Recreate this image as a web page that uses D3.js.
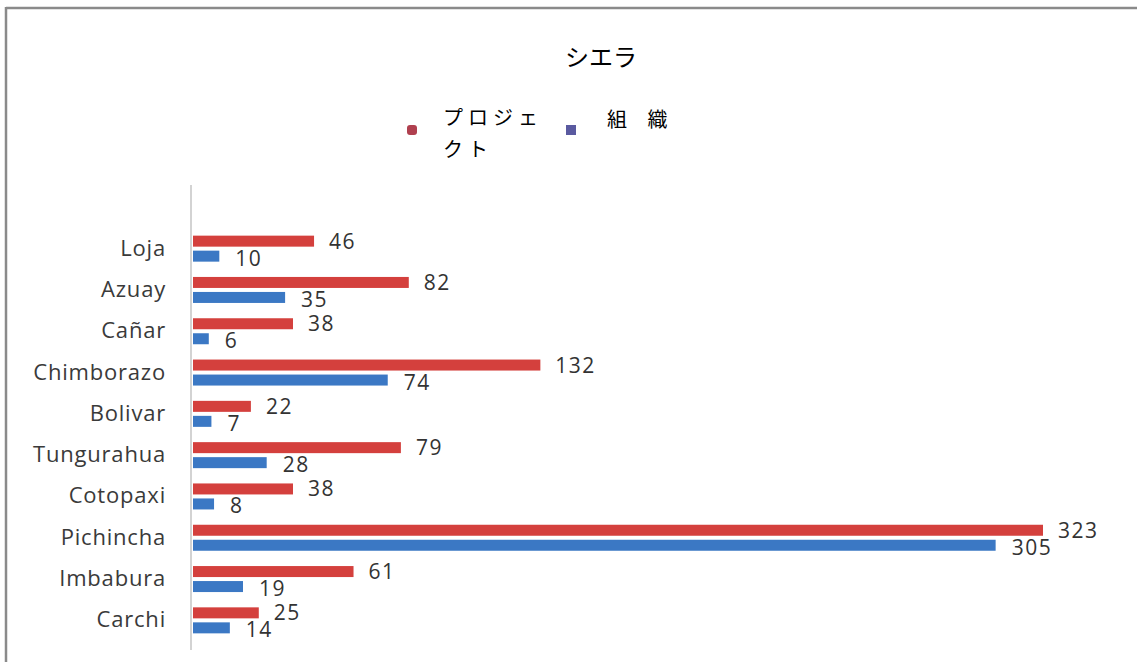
<!DOCTYPE html>
<html>
<head>
<meta charset="utf-8">
<script src="https://cdn.jsdelivr.net/npm/d3@7"></script>
<style>
  html, body { margin: 0; padding: 0; background: #fff; }
  #app { width: 1137px; height: 662px; }
</style>
</head>
<body>
<div id="app"></div>
<script>
/////////DATA///////////

const provinces = ['Loja', 'Azuay', 'Cañar', 'Chimborazo', 'Bolivar', 'Tungurahua', 'Cotopaxi', 'Pichincha', 'Imbabura', 'Carchi'];
const projects = [46, 82, 38, 132, 22, 79, 38, 323, 61, 25];
const organizations = [10, 35, 6, 74, 7, 28, 8, 305, 19, 14];
const seriesNames = ['プロジェクト', '組 織'];

const w = 1137;
const h = 662;
const red = '#d4403d';
const blue = '#3b78c4';

const svg = d3.select('#app')
  .append('svg')
  .attr('width', w)
  .attr('height', h);

/////////FRAME///////////

svg.append('line')
  .attr('x1', 6).attr('x2', w).attr('y1', 8).attr('y2', 8)
  .attr('stroke', '#8a8a8a').attr('stroke-width', 2.5);
svg.append('line')
  .attr('x1', 6).attr('x2', 6).attr('y1', 7).attr('y2', h)
  .attr('stroke', '#8a8a8a').attr('stroke-width', 2.5);

/////////TITLE///////////

svg.append('text')
  .attr('x', 601)
  .attr('y', 66)
  .attr('text-anchor', 'middle')
  .style('font-family', '"Noto Sans CJK JP", sans-serif')
  .style('font-size', '24px')
  .text('シエラ');

/////////LEGEND//////////

const legend = svg.append('g')
  .style('font-family', '"Noto Sans CJK JP", sans-serif')
  .style('font-size', '20px');

legend.append('rect')
  .attr('x', 407).attr('y', 125).attr('width', 10).attr('height', 10)
  .attr('rx', 3).attr('fill', '#b0404f');
legend.append('text')
  .attr('x', 443).attr('y', 125)
  .style('letter-spacing', '5px')
  .text(seriesNames[0].slice(0, 4));
legend.append('text')
  .attr('x', 443).attr('y', 157)
  .style('letter-spacing', '5px')
  .text(seriesNames[0].slice(4));

legend.append('rect')
  .attr('x', 566).attr('y', 125).attr('width', 10).attr('height', 10)
  .attr('fill', '#5a5aa0');
legend.append('text')
  .attr('x', 607).attr('y', 127)
  .style('letter-spacing', '8px')
  .text(seriesNames[1]);

/////////SCALES//////////

const x0 = 193;
const xScale = d3.scaleLinear()
  .domain([0, 323])
  .range([x0, 1043]);

const yScale = d3.scaleBand()
  .domain(provinces)
  .range([228, 641]);

const bh = 11;

/////////AXIS//////////

const yAxis = d3.axisLeft(yScale).tickSize(0).tickPadding(25);

const axisG = svg.append('g')
  .attr('transform', 'translate(191,0)')
  .call(yAxis);
axisG.select('.domain').remove();
axisG.selectAll('text')
  .style('font-family', '"Open Sans", sans-serif')
  .style('font-size', '22px')
  .style('letter-spacing', '0.8px')
  .attr('fill', '#3a3a3a');

svg.append('line')
  .attr('x1', 191).attr('x2', 191)
  .attr('y1', 185).attr('y2', 650)
  .attr('stroke', '#c4c4c4').attr('stroke-width', 1.5);

/////////BARS//////////

const rows = provinces.map((p, i) => ({ p, proj: projects[i], org: organizations[i] }));
const mid = (d) => yScale(d.p) + yScale.bandwidth() / 2;

svg.selectAll('.bar-proj')
  .data(rows)
  .join('rect')
  .attr('class', 'bar-proj')
  .attr('x', x0)
  .attr('y', (d) => mid(d) - 13)
  .attr('width', (d) => xScale(d.proj) - x0)
  .attr('height', bh)
  .attr('fill', red);

svg.selectAll('.bar-org')
  .data(rows)
  .join('rect')
  .attr('class', 'bar-org')
  .attr('x', x0)
  .attr('y', (d) => mid(d) + 2)
  .attr('width', (d) => xScale(d.org) - x0)
  .attr('height', bh)
  .attr('fill', blue);

/////////LABELS//////////

const labelStyle = (sel) => sel
  .style('font-family', '"Open Sans", sans-serif')
  .style('font-size', '21px')
  .style('letter-spacing', '1.5px')
  .attr('fill', '#333');

svg.selectAll('.lbl-proj')
  .data(rows)
  .join('text')
  .attr('class', 'lbl-proj')
  .attr('x', (d) => xScale(d.proj) + 15)
  .attr('y', (d) => mid(d))
  .call(labelStyle)
  .text((d) => d.proj);

svg.selectAll('.lbl-org')
  .data(rows)
  .join('text')
  .attr('class', 'lbl-org')
  .attr('x', (d) => xScale(d.org) + 16)
  .attr('y', (d) => mid(d) + 17)
  .call(labelStyle)
  .text((d) => d.org);
</script>
</body>
</html>
